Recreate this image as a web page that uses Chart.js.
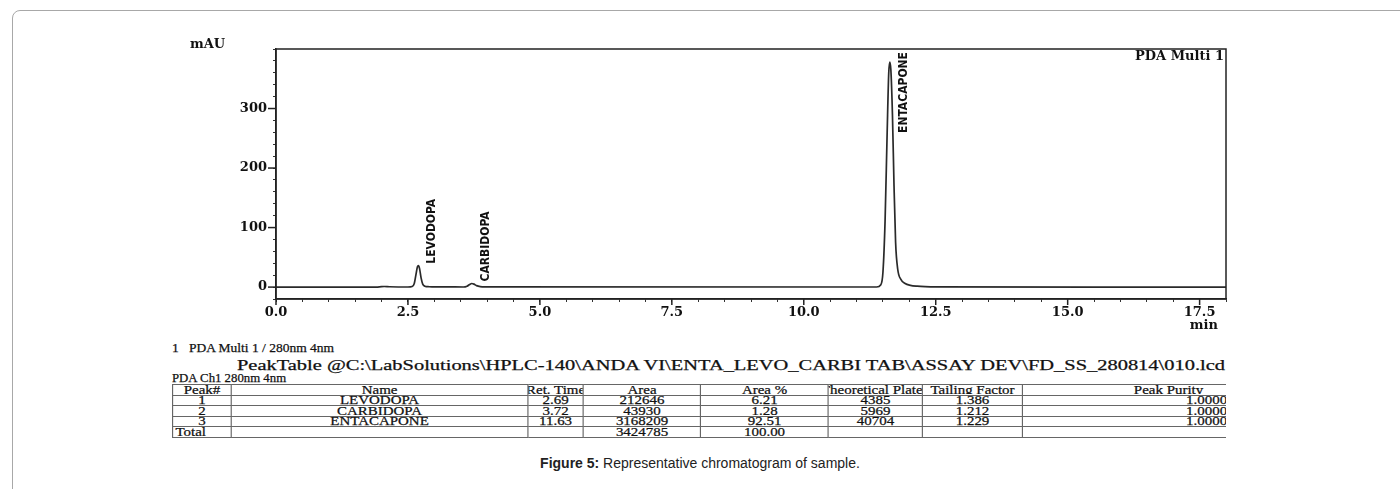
<!DOCTYPE html>
<html>
<head>
<meta charset="utf-8">
<script src="https://cdn.jsdelivr.net/npm/chart.js@4.4.1/dist/chart.umd.min.js"></script>
<style>
  html, body { margin:0; padding:0; background:#fff; width:1400px; height:489px; overflow:hidden; }
  #frame { position:absolute; left:12px; top:10px; width:1420px; height:520px; border:1.5px solid #a8a8a8; border-radius:8px; box-sizing:border-box; }
  #c { position:absolute; left:0; top:0; }
  .txt { position:absolute; font-family:"Liberation Serif", serif; font-size:13.5px; color:#111; white-space:nowrap; line-height:13px; -webkit-text-stroke:0.25px #111; }
  #ptline { font-size:14px; transform-origin:0 50%; }
  #tblwrap { position:absolute; left:172px; top:384px; width:1054px; height:60px; overflow:hidden; }
  #tbl { border-collapse:collapse; font-family:"Liberation Serif", serif; font-size:13px; color:#111; table-layout:fixed; transform-origin:0 0; -webkit-text-stroke:0.25px #111; }
  #tbl td { border:1px solid #666; padding:0; height:9.6px; text-align:center; white-space:nowrap; overflow:hidden; }
  #tbl td div { display:flex; justify-content:center; overflow:hidden; line-height:9.6px; height:9.6px; position:relative; top:-0.5px; }
  #tbl td.l div { justify-content:flex-start; padding-left:2px; }
  #caption { position:absolute; left:0; width:1400px; top:455px; text-align:center; font-family:"Liberation Sans", Arial, sans-serif; font-size:14px; color:#222; }
</style>
</head>
<body>
<div id="frame"></div>
<canvas id="c" width="1400" height="340"></canvas>
<div class="txt" style="left:172px; top:341px;">1&nbsp;&nbsp;&nbsp;PDA Multi 1 / 280nm 4nm</div>
<div class="txt" id="ptline" style="left:237px; top:359px;"></div>
<div class="txt" style="left:172px; top:372px; font-size:12.8px;">PDA Ch1 280nm 4nm</div>
<div id="tblwrap"><table id="tbl"></table></div>
<div id="caption"><b>Figure 5:</b> Representative chromatogram of sample.</div>
<script>
// ---- chromatogram trace (time in min, signal in mAU) ----
const traceTimes = [0, 1.9, 2.0, 2.05, 2.15, 2.5, 2.58, 2.62, 2.65, 2.68, 2.70, 2.72, 2.75, 2.78, 2.82, 2.9, 3.0,
  3.55, 3.62, 3.67, 3.71, 3.75, 3.8, 3.87, 3.95,
  11.38, 11.46, 11.5, 11.54, 11.58, 11.61, 11.63, 11.65, 11.68, 11.71, 11.74, 11.78, 11.84, 11.92, 12.02, 12.15, 12.3, 12.5, 18];
const traceSignal = [0, 0, 0.8, 1.0, 0.6, 0.2, 1.0, 6, 20, 34, 36, 31, 15, 5, 1.5, 0.6, 0.3,
  0.2, 1.5, 4.5, 6, 5, 2.5, 0.8, 0.3,
  0.2, 4, 25, 110, 260, 360, 378, 365, 290, 170, 75, 30, 13, 6, 3, 1.5, 0.7, 0.3, 0];

// ---- axis ticks ----
const xLabelTicks = [0, 2.5, 5, 7.5, 10, 12.5, 15, 17.5];
const yLabelTicks = [0, 100, 200, 300];
const xRange = [0, 18];
const yRange = [-20, 400];

// ---- peak annotations ----
const peakNames = ["LEVODOPA", "CARBIDOPA", "ENTACAPONE"];
const peakTimes = [2.69, 3.72, 11.63];
const peakHeights = [36, 6, 378];

// ---- peak table ----
const headerLine = "PeakTable @C:\\LabSolutions\\HPLC-140\\ANDA VI\\ENTA_LEVO_CARBI TAB\\ASSAY DEV\\FD_SS_280814\\010.lcd";
const colHeaders = ["Peak#", "Name", "Ret. Time", "Area", "Area %", "Theoretical Plate#", "Tailing Factor", "Peak Purity"];
const peakNums = ["1", "2", "3"];
const retTimes = ["2.69", "3.72", "11.63"];
const areas = ["212646", "43930", "3168209"];
const areaPcts = ["6.21", "1.28", "92.51"];
const plates = ["4385", "5969", "40704"];
const tailing = ["1.386", "1.212", "1.229"];
const purity = ["1.000000", "1.000000", "1.000000"];
const totalArea = "3424785";
const totalPct = "100.00";

// build header line, stretched to the width it has in the picture
const pt = document.getElementById('ptline');
pt.textContent = headerLine;
pt.style.transform = `scaleX(${988 / pt.getBoundingClientRect().width})`;

// build table (drawn narrower, then stretched horizontally like the scan)
const K = 1.15;
const colW = [59, 296, 56, 117, 128, 94, 100, 292].map(w => w / K);
const tbl = document.getElementById('tbl');
tbl.style.width = colW.reduce((a, b) => a + b, 0) + 'px';
tbl.style.transform = `scaleX(${K})`;
const cell = (t, cls = '', style = '') => `<td class="${cls}"><div style="${style}">${t}</div></td>`;
let html = '<colgroup>' + colW.map(w => `<col style="width:${w}px">`).join('') + '</colgroup>';
html += '<tr>' + colHeaders.map(h => cell(h)).join('') + '</tr>';
for (let i = 0; i < peakNames.length; i++) {
  html += '<tr>' + cell(peakNums[i]) + cell(peakNames[i]) + cell(retTimes[i]) + cell(areas[i]) + cell(areaPcts[i]) +
    cell(plates[i]) + cell(tailing[i]) + cell(purity[i], 'l', `padding-left:${163 / K}px`) + '</tr>';
}
html += '<tr>' + cell('Total', 'l') + cell('') + cell('') + cell(totalArea) + cell(totalPct) + cell('') + cell('') + cell('') + '</tr>';
tbl.innerHTML = html;

const points = traceTimes.map((t, i) => ({ x: t, y: traceSignal[i] }));
const serif = '"DejaVu Serif", serif';

const decor = {
  id: 'decor',
  afterDraw(chart) {
    const { ctx, chartArea: a, scales } = chart;
    const xs = scales.x, ys = scales.y;
    ctx.save();
    ctx.strokeStyle = '#222';
    ctx.lineWidth = 1.5;
    ctx.strokeRect(a.left, a.top, a.right - a.left, a.bottom - a.top);
    xLabelTicks.forEach(v => {
      const px = xs.getPixelForValue(v);
      ctx.beginPath(); ctx.moveTo(px, a.bottom); ctx.lineTo(px, a.bottom + 6); ctx.stroke();
    });
    yLabelTicks.forEach(v => {
      const py = ys.getPixelForValue(v);
      ctx.beginPath(); ctx.moveTo(a.left - 8, py); ctx.lineTo(a.left, py); ctx.stroke();
    });
    ctx.fillStyle = '#111';
    ctx.font = 'bold 13px ' + serif;
    ctx.textBaseline = 'middle';
    ctx.textAlign = 'left';
    ctx.fillText('mAU', 190, 45);
    ctx.textAlign = 'right';
    ctx.fillText('PDA Multi 1', a.right - 2, a.top + 8);
    ctx.fillText('min', a.right - 8, a.bottom + 27);
    ctx.font = 'bold 12px "DejaVu Sans", sans-serif';
    try { ctx.fontStretch = 'condensed'; } catch (e) {}
    ctx.textAlign = 'left';
    ctx.textBaseline = 'middle';
    peakNames.forEach((n, i) => {
      const px = xs.getPixelForValue(peakTimes[i]) + 14;
      const w = ctx.measureText(n).width;
      let py = ys.getPixelForValue(peakHeights[i]) - 2;
      py = Math.max(py, a.top + 3 + w);
      ctx.save();
      ctx.translate(px, py);
      ctx.rotate(-Math.PI / 2);
      ctx.fillText(n, 0, 0);
      ctx.restore();
    });
    ctx.restore();
  }
};

new Chart(document.getElementById('c'), {
  type: 'line',
  data: {
    datasets: [{
      data: points,
      borderColor: '#2a2a2a',
      borderWidth: 1.7,
      pointRadius: 0,
      fill: false,
      cubicInterpolationMode: 'monotone'
    }]
  },
  options: {
    responsive: false,
    animation: false,
    events: [],
    layout: { padding: { left: 216, top: 49, right: 174, bottom: 11 } },
    plugins: { legend: { display: false }, tooltip: { enabled: false } },
    scales: {
      x: {
        type: 'linear', min: xRange[0], max: xRange[1],
        afterFit(s) { s.height = 30; },
        border: { display: true, color: '#222', width: 1.5 },
        grid: { drawOnChartArea: false, drawTicks: true, tickLength: 3, color: '#333', lineWidth: 1 },
        ticks: {
          stepSize: 0.5, autoSkip: false, maxRotation: 0, padding: 3,
          color: '#111', font: { family: serif, size: 13, weight: 'bold' },
          callback: v => xLabelTicks.includes(v) ? v.toFixed(1) : ''
        }
      },
      y: {
        type: 'linear', min: yRange[0], max: yRange[1],
        afterFit(s) { s.width = 60; },
        border: { display: true, color: '#222', width: 1.5 },
        grid: { drawOnChartArea: false, drawTicks: true, tickLength: 3, color: '#333', lineWidth: 1 },
        ticks: {
          stepSize: 20, autoSkip: false, padding: 6,
          color: '#111', font: { family: serif, size: 13, weight: 'bold' },
          callback: v => yLabelTicks.includes(v) ? String(v) : ''
        }
      }
    }
  },
  plugins: [decor]
});
</script>
</body>
</html>
